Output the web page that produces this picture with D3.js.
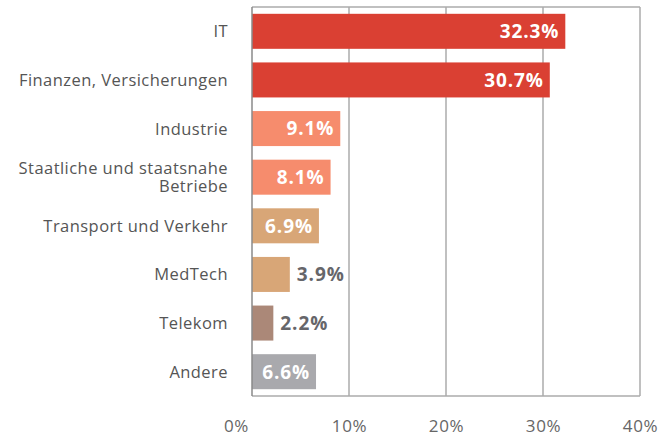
<!DOCTYPE html>
<html>
<head>
<meta charset="utf-8">
<script src="https://cdn.jsdelivr.net/npm/d3@7"></script>
<style>
  body { margin: 0; background: #fff; }
  text { font-family: "Open Sans", sans-serif; }
</style>
</head>
<body>
<div id="chart"></div>
<script>
/* Data */
var categories = ['IT', 'Finanzen, Versicherungen', 'Industrie',
                  'Staatliche und staatsnahe\nBetriebe', 'Transport und Verkehr',
                  'MedTech', 'Telekom', 'Andere'];
var values     = [32.3, 30.7, 9.1, 8.1, 6.9, 3.9, 2.2, 6.6];
var colors     = ['#da4033', '#da4033', '#f68c6d', '#f68c6d', '#d8a677',
                  '#d8a677', '#ab8878', '#a9a9ad'];
var labelInside = [true, true, true, true, true, false, false, true];
var ticks      = [0, 10, 20, 30, 40];

/* Layout */
var W = 661, H = 437,
    m = {top: 7, right: 21, bottom: 41, left: 252},
    w = W - m.left - m.right,
    h = H - m.top - m.bottom;

var svg = d3.select('#chart').append('svg')
    .attr('width', W)
    .attr('height', H);

var g = svg.append('g')
    .attr('transform', 'translate(' + m.left + ',' + m.top + ')');

var x = d3.scaleLinear().domain([0, 40]).range([0, w]);
var y = d3.scaleBand().domain(categories).range([0, h]).paddingInner(0.28).paddingOuter(0.14);

// Grid + frame
g.selectAll('.grid').data(ticks.slice(1))
  .enter().append('line')
    .attr('x1', function(d){ return x(d); })
    .attr('x2', function(d){ return x(d); })
    .attr('y1', 0).attr('y2', h)
    .attr('stroke', '#ababab')
    .attr('stroke-width', 1.5);

g.append('line')
    .attr('x1', 0).attr('x2', w)
    .attr('y1', 0).attr('y2', 0)
    .attr('stroke', '#ababab').attr('stroke-width', 1.5);

g.append('line')
    .attr('x1', 0).attr('x2', w)
    .attr('y1', h).attr('y2', h)
    .attr('stroke', '#ababab').attr('stroke-width', 1.5);

// Bars
g.selectAll('.bar').data(values)
  .enter().append('rect')
    .attr('x', 0)
    .attr('y', function(d, i){ return y(categories[i]); })
    .attr('width', function(d){ return x(d); })
    .attr('height', y.bandwidth())
    .attr('fill', function(d, i){ return colors[i]; });

// Left axis line
g.append('line')
    .attr('x1', 0).attr('x2', 0)
    .attr('y1', 0).attr('y2', h)
    .attr('stroke', '#8a8a8a').attr('stroke-width', 1.5);

// Value labels
g.selectAll('.val').data(values)
  .enter().append('text')
    .attr('x', function(d, i){ return labelInside[i] ? x(d) - 6 : x(d) + 7; })
    .attr('y', function(d, i){ return y(categories[i]) + y.bandwidth() / 2; })
    .attr('dy', '0.36em')
    .attr('text-anchor', function(d, i){ return labelInside[i] ? 'end' : 'start'; })
    .attr('fill', function(d, i){ return labelInside[i] ? '#fff' : '#66666a'; })
    .attr('font-size', '19px')
    .attr('font-weight', 'bold')
    .attr('letter-spacing', '0.9px')
    .text(function(d){ return d.toFixed(1) + '%'; });

// Category labels (one text per line)
categories.forEach(function(d){
  var lines = d.split('\n'),
      lh = 18,
      cy = y(d) + y.bandwidth() / 2 - (lines.length - 1) * lh / 2;
  lines.forEach(function(s, k){
    g.append('text')
      .attr('x', -24)
      .attr('y', cy + k * lh)
      .attr('dy', '0.36em')
      .attr('text-anchor', 'end')
      .attr('fill', '#555')
      .attr('font-size', '16.5px')
      .attr('letter-spacing', '0.45px')
      .text(s);
  });
});

// X axis labels
var xAxis = d3.axisBottom(x).tickValues(ticks)
    .tickSize(0).tickPadding(0)
    .tickFormat(function(d){ return d + '%'; });

var ax = g.append('g')
    .attr('transform', 'translate(0,' + h + ')')
    .call(xAxis);

ax.select('.domain').remove();
ax.selectAll('text')
    .attr('y', 36)
    .attr('dy', 0)
    .attr('fill', '#666')
    .attr('font-size', '17px')
    .attr('letter-spacing', '0.6px')
    .attr('font-family', '"Open Sans", sans-serif')
    .attr('dx', function(d){ return d == 0 ? -16 : 0; });
</script>
</body>
</html>
